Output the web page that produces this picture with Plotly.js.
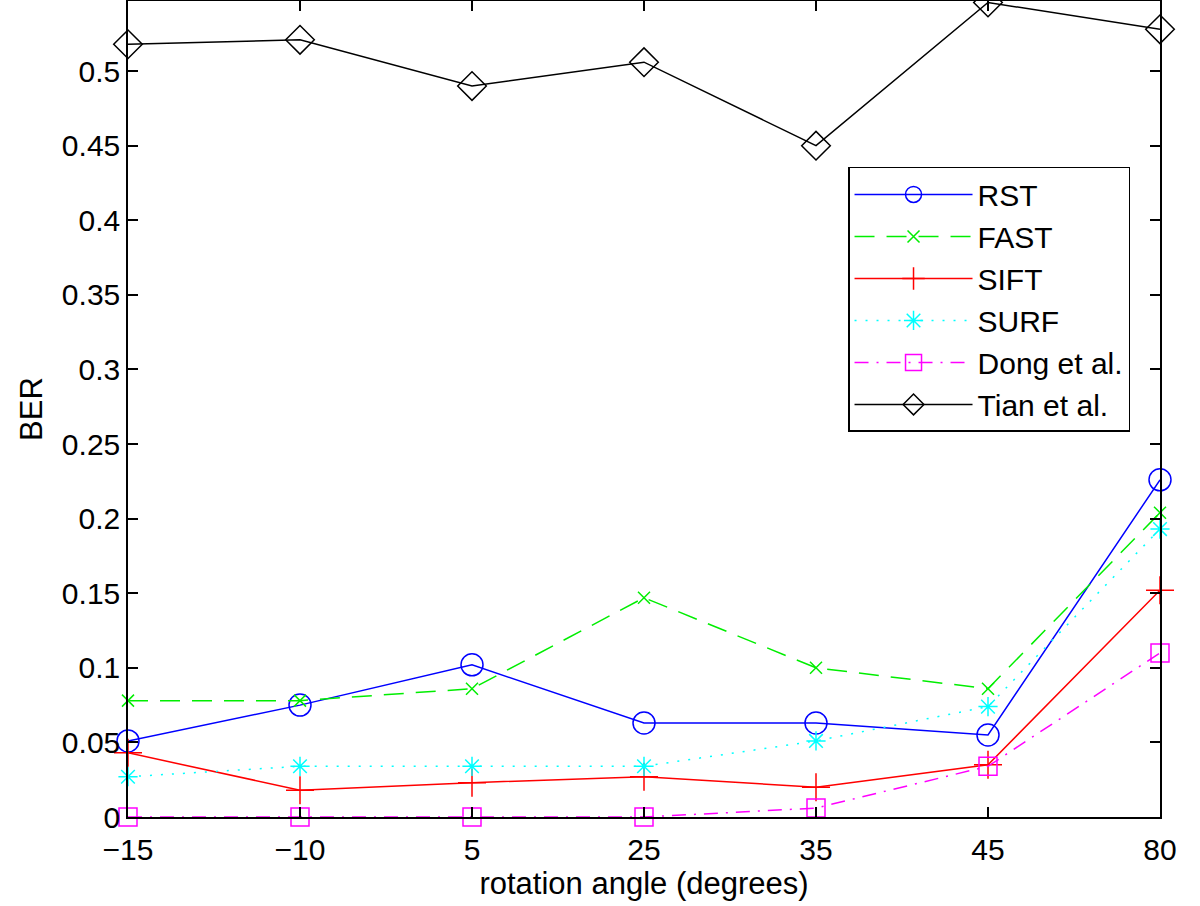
<!DOCTYPE html>
<html>
<head>
<meta charset="utf-8">
<script src="https://cdn.plot.ly/plotly-3.0.1.min.js"></script>
<style>html,body{margin:0;padding:0;background:#fff;}#chart{width:1200px;height:906px;}</style>
</head>
<body>
<div id="chart"></div>
<script>
var angles = ['\u221215', '\u221210', '5', '25', '35', '45', '80'];
var rst  = [0.051, 0.075, 0.102, 0.063, 0.063, 0.055, 0.226];
var fast = [0.078, 0.078, 0.086, 0.147, 0.100, 0.086, 0.204];
var sift = [0.043, 0.018, 0.023, 0.027, 0.020, 0.035, 0.152];
var surf = [0.027, 0.034, 0.034, 0.034, 0.051, 0.074, 0.193];
var dong = [0.000, 0.000, 0.000, 0.000, 0.006, 0.034, 0.110];
var tian = [0.518, 0.521, 0.490, 0.506, 0.450, 0.546, 0.528];
var yTicks = [0, 0.05, 0.1, 0.15, 0.2, 0.25, 0.3, 0.35, 0.4, 0.45, 0.5];
var yTickText = ['0', '0.05', '0.1', '0.15', '0.2', '0.25', '0.3', '0.35', '0.4', '0.45', '0.5'];

function tr(name, y, color, dash, symbol, size, grp) {
  return {
    x: angles, y: y, name: name, type: 'scatter', mode: 'lines+markers',
    legendgroup: grp, cliponaxis: false,
    line: {color: color, width: 1.5, dash: dash},
    marker: {symbol: symbol, size: size, color: color, line: {color: color, width: 1.5}}
  };
}
var data = [
  tr('RST', rst, '#0000ff', 'solid', 'circle-open', 22, 'a'),
  tr('FAST', fast, '#00ee00', '20px,12px', 'x-thin-open', 12, 'b'),
  tr('SIFT', sift, '#ff0000', 'solid', 'cross-thin-open', 20, 'c'),
  tr('SURF', surf, '#00ffff', '2px,9px', 'asterisk-open', 16, 'd'),
  tr('Dong et al.', dong, '#ff00ff', '14px,8px,2px,8px', 'square-open', 18, 'e'),
  tr('Tian et al.', tian, '#000000', 'solid', 'diamond-open', 22, 'f')
];
var fam = 'Liberation Sans, Arial, sans-serif';
var tickFont = {family: fam, size: 30, color: '#000'};
var titleFont = {family: fam, size: 31, color: '#000'};
var layout = {
  width: 1200, height: 906,
  margin: {l: 128, r: 40, t: 1, b: 89},
  paper_bgcolor: '#fff', plot_bgcolor: '#fff',
  font: tickFont,
  showlegend: true,
  legend: {
    x: 0.6977, y: 0.7966, xanchor: 'left', yanchor: 'top',
    bgcolor: '#fff', bordercolor: '#000', borderwidth: 1.5,
    font: {family: fam, size: 30, color: '#000'},
    tracegroupgap: 0, itemwidth: 118
  },
  xaxis: {
    type: 'category', range: [0, 6],
    showgrid: false, zeroline: false,
    showline: true, mirror: 'ticks', linecolor: '#000', linewidth: 1.5,
    ticks: 'inside', ticklen: 10, tickcolor: '#000', tickwidth: 1.5,
    tickfont: tickFont, ticklabelstandoff: 5,
    title: {text: 'rotation angle (degrees)', font: titleFont, standoff: 1}
  },
  yaxis: {
    range: [0, 0.547],
    tickvals: yTicks, ticktext: yTickText,
    showgrid: false, zeroline: false,
    showline: true, mirror: 'ticks', linecolor: '#000', linewidth: 1.5,
    ticks: 'inside', ticklen: 10, tickcolor: '#000', tickwidth: 1.5,
    tickfont: tickFont,
    title: {text: 'BER', font: titleFont, standoff: 10}
  }
};
Plotly.newPlot('chart', data, layout, {displayModeBar: false});
</script>
</body>
</html>
